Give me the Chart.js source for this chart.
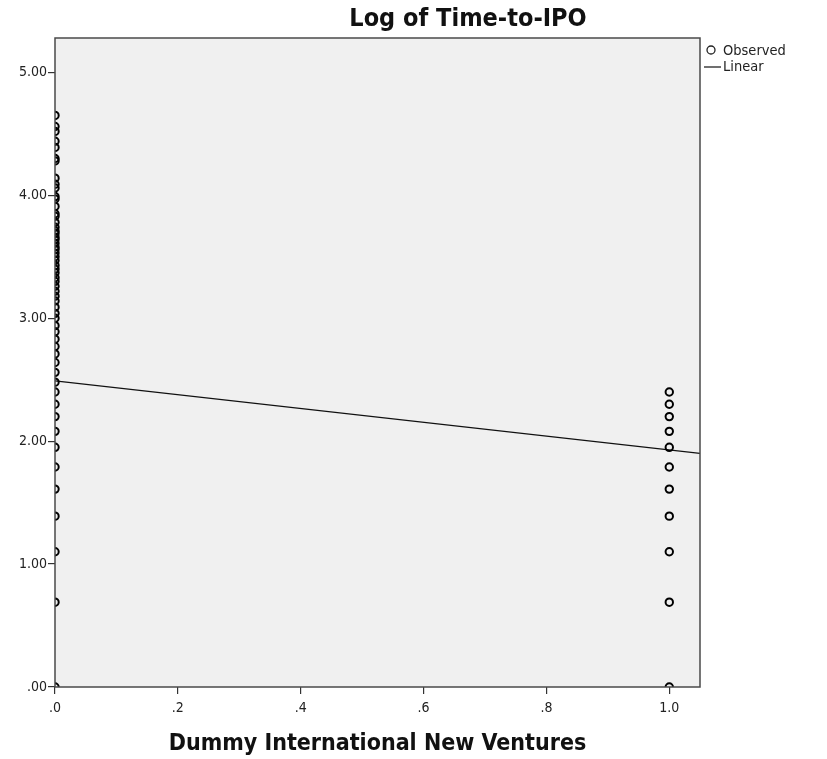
<!DOCTYPE html>
<html>
<head>
<meta charset="utf-8">
<script src="https://cdn.jsdelivr.net/npm/chart.js@4.4.1/dist/chart.umd.min.js"></script>
<style>
  html, body { margin: 0; padding: 0; background: #ffffff; }
  #c { display: block; }
</style>
</head>
<body>
<canvas id="c" width="827" height="759"></canvas>
<script>
// ---- Data ----
const chartTitle = "Log of Time-to-IPO";
const xAxisTitle = "Dummy International New Ventures";
const legendLabels = ["Observed", "Linear"];

// Observed log time-to-IPO for non-international ventures (x = 0)
const logTimeDomestic = [
  4.65, 4.56, 4.52, 4.44, 4.39, 4.30, 4.28, 4.14, 4.09, 4.06, 3.99, 3.97,
  3.91, 3.85, 3.83, 3.78, 3.74, 3.71, 3.69, 3.66, 3.64, 3.61, 3.58, 3.56,
  3.53, 3.50, 3.47, 3.43, 3.40, 3.37, 3.33, 3.30, 3.26, 3.22, 3.18, 3.14,
  3.09, 3.04, 3.00, 2.94, 2.89, 2.83, 2.77, 2.71, 2.64, 2.56, 2.48, 2.40,
  2.30, 2.20, 2.08, 1.95, 1.79, 1.61, 1.39, 1.10, 0.69, 0.00
];
// Observed log time-to-IPO for international new ventures (x = 1)
const logTimeINV = [2.40, 2.30, 2.20, 2.08, 1.95, 1.79, 1.61, 1.39, 1.10, 0.69, 0.00];
const groupX = [0, 1];

// Linear fit line end points
const fitX = [0, 1.05];
const fitY = [2.49, 1.90];

// Tick values
const xTicks = [0, 0.2, 0.4, 0.6, 0.8, 1.0];
const yTicks = [0, 1, 2, 3, 4, 5];

// ---- Build datasets ----
const observedPoints = []
  .concat(logTimeDomestic.map(v => ({ x: groupX[0], y: v })))
  .concat(logTimeINV.map(v => ({ x: groupX[1], y: v })));
const fitPoints = fitX.map((x, i) => ({ x: x, y: fitY[i] }));

const FONT = "'DejaVu Sans Condensed', 'Liberation Sans Narrow', 'Liberation Sans', sans-serif";

function stripZero(s) { return s.replace(/^0\./, '.').replace(/^-0\./, '-.'); }

const framePlugin = {
  id: 'frame',
  beforeDraw(chart) {
    const a = chart.chartArea, ctx = chart.ctx;
    ctx.save();
    ctx.fillStyle = '#f0f0f0';
    ctx.fillRect(a.left, a.top, a.right - a.left, a.bottom - a.top);
    ctx.restore();
  },
  afterDatasetsDraw(chart) {
    const a = chart.chartArea, ctx = chart.ctx;
    ctx.save();
    ctx.strokeStyle = '#4a4a4a';
    ctx.lineWidth = 1.5;
    ctx.strokeRect(a.left, a.top, a.right - a.left, a.bottom - a.top);
    ctx.restore();
  },
  afterDraw(chart) {
    const ctx = chart.ctx;
    ctx.save();
    // Title
    ctx.fillStyle = '#111';
    ctx.font = "bold 25px " + FONT;
    ctx.textAlign = 'center';
    ctx.textBaseline = 'middle';
    ctx.fillText(chartTitle, 468, 19);
    // Legend
    ctx.font = "14.5px " + FONT;
    ctx.textAlign = 'left';
    ctx.fillStyle = '#222';
    ctx.strokeStyle = '#222';
    ctx.lineWidth = 1.3;
    ctx.beginPath();
    ctx.arc(711, 50, 4, 0, Math.PI * 2);
    ctx.stroke();
    ctx.fillText(legendLabels[0], 723, 51);
    ctx.beginPath();
    ctx.moveTo(704, 67);
    ctx.lineTo(721, 67);
    ctx.stroke();
    ctx.fillText(legendLabels[1], 723, 67);
    ctx.restore();
  }
};

new Chart(document.getElementById('c'), {
  type: 'scatter',
  data: {
    datasets: [
      {
        label: legendLabels[0],
        data: observedPoints,
        pointStyle: 'circle',
        pointRadius: 3.7,
        pointHoverRadius: 3.7,
        borderColor: '#000',
        backgroundColor: 'rgba(0,0,0,0)',
        borderWidth: 2,
        showLine: false,
        clip: 0
      },
      {
        label: legendLabels[1],
        data: fitPoints,
        type: 'line',
        showLine: true,
        pointRadius: 0,
        borderColor: '#111',
        borderWidth: 1.3,
        fill: false,
        clip: 0
      }
    ]
  },
  options: {
    responsive: false,
    animation: false,
    layout: { padding: { top: 38, right: 127, left: 0, bottom: 0 } },
    plugins: {
      legend: { display: false },
      title: { display: false },
      tooltip: { enabled: false }
    },
    scales: {
      x: {
        type: 'linear',
        min: 0,
        max: 1.05,
        afterBuildTicks(scale) { scale.ticks = xTicks.map(v => ({ value: v })); },
        afterFit(scale) { scale.height = 72; },
        grid: { display: true, drawOnChartArea: false, drawTicks: true, tickLength: 7, color: '#333', lineWidth: 1.2 },
        border: { display: false },
        ticks: {
          color: '#222',
          font: { family: FONT, size: 14 },
          padding: 6,
          maxRotation: 0,
          autoSkip: false,
          callback: v => stripZero(Number(v).toFixed(1))
        },
        title: {
          display: true,
          text: xAxisTitle,
          color: '#111',
          font: { family: FONT, size: 23, weight: 'bold' },
          padding: { top: 0, bottom: 1 }
        }
      },
      y: {
        type: 'linear',
        min: 0,
        max: 5.28,
        afterBuildTicks(scale) { scale.ticks = yTicks.map(v => ({ value: v })); },
        afterFit(scale) { scale.width = 55; },
        grid: { display: true, drawOnChartArea: false, drawTicks: true, tickLength: 7, color: '#333', lineWidth: 1.2 },
        border: { display: false },
        ticks: {
          color: '#222',
          font: { family: FONT, size: 14 },
          padding: 1,
          autoSkip: false,
          callback: v => stripZero(Number(v).toFixed(2))
        }
      }
    }
  },
  plugins: [framePlugin]
});
</script>
</body>
</html>
